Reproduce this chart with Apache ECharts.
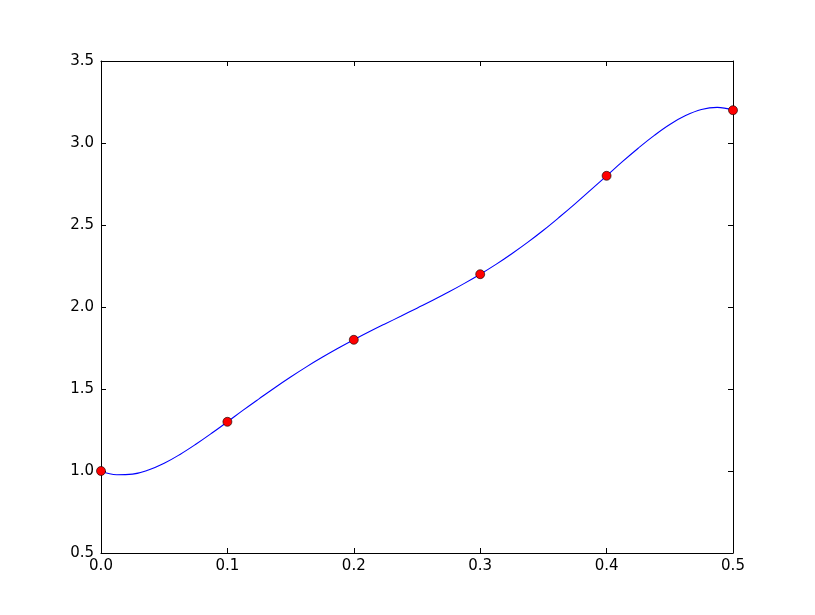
<!DOCTYPE html>
<html>
<head>
<meta charset="utf-8">
<script src="https://cdn.jsdelivr.net/npm/echarts@6/dist/echarts.min.js"></script>
<style>html,body{margin:0;padding:0;background:#fff}#c{width:815px;height:615px}</style>
</head>
<body>
<div id="c"></div>
<script>
// Sample points (red markers)
const pointX = [0.0, 0.1, 0.2, 0.3, 0.4, 0.5];
const pointY = [1.0, 1.3, 1.8, 2.2, 2.8, 3.2];

// Blue curve, values (every 0.0125 in x)
const curveX = [0.0, 0.0125, 0.025, 0.0375, 0.05, 0.0625, 0.075, 0.0875,
  0.1, 0.1125, 0.125, 0.1375, 0.15, 0.1625, 0.175, 0.1875,
  0.2, 0.2125, 0.225, 0.2375, 0.25, 0.2625, 0.275, 0.2875,
  0.3, 0.3125, 0.325, 0.3375, 0.35, 0.3625, 0.375, 0.3875,
  0.4, 0.4125, 0.425, 0.4375, 0.45, 0.4625, 0.475, 0.4875, 0.5];
const curveY = [1.0, 0.977, 0.981, 1.006, 1.047, 1.101, 1.163, 1.230,
  1.3, 1.371, 1.440, 1.508, 1.573, 1.635, 1.693, 1.748,
  1.8, 1.850, 1.898, 1.945, 1.993, 2.041, 2.091, 2.144,
  2.2, 2.260, 2.325, 2.394, 2.468, 2.547, 2.629, 2.714,
  2.8, 2.886, 2.968, 3.045, 3.113, 3.167, 3.204, 3.217, 3.2];

// Axis ticks
const xTicks = {min: 0.0, max: 0.5, step: 0.1};
const yTicks = {min: 0.5, max: 3.5, step: 0.5};

const font = 'DejaVu Sans';
const chart = echarts.init(document.getElementById('c'), null, {renderer: 'canvas'});

function axisBase(pos, t, showLabel, margin) {
  return {
    type: 'value', position: pos, min: t.min, max: t.max, interval: t.step,
    axisLine: {show: true, onZero: false, lineStyle: {color: '#000', width: 1}},
    axisTick: {show: true, inside: true, length: 5, lineStyle: {color: '#000', width: 1}},
    axisLabel: {show: showLabel, color: '#000', fontFamily: font, fontSize: 15, margin: margin,
      formatter: v => v.toFixed(1)},
    splitLine: {show: false}
  };
}

chart.setOption({
  backgroundColor: '#fff',
  animation: false,
  grid: {left: 101, top: 61, right: 82, bottom: 62, containLabel: false},
  xAxis: [axisBase('bottom', xTicks, true, 6), axisBase('top', xTicks, false, 6)],
  yAxis: [axisBase('left', yTicks, true, 7), axisBase('right', yTicks, false, 7)],
  series: [
    {
      type: 'line', xAxisIndex: 0, yAxisIndex: 0,
      data: curveX.map((x, i) => [x, curveY[i]]),
      smooth: 0.4, showSymbol: false, clip: true,
      lineStyle: {color: '#0000ff', width: 1.1}, z: 2
    },
    {
      type: 'scatter', xAxisIndex: 0, yAxisIndex: 0,
      data: pointX.map((x, i) => [x, pointY[i]]),
      symbol: 'circle', symbolSize: 9, clip: false,
      itemStyle: {color: '#ff0000', borderColor: '#000', borderWidth: 0.6, opacity: 1}, z: 3
    }
  ]
});
</script>
</body>
</html>
